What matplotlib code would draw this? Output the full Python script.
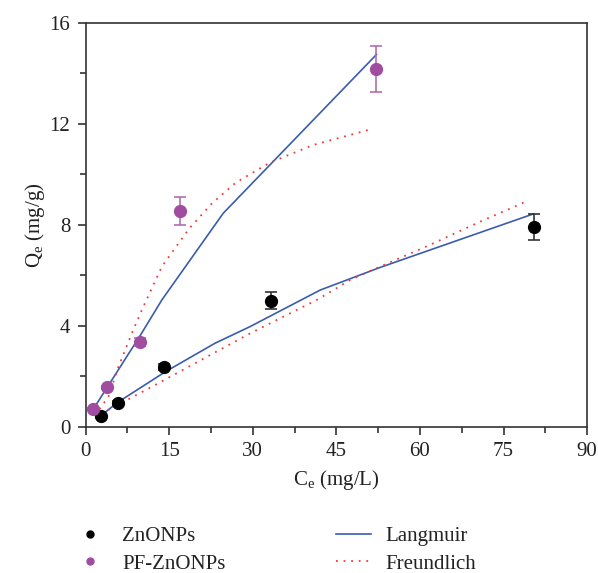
import matplotlib.pyplot as plt
from matplotlib.lines import Line2D

plt.rcParams['font.family'] = ['Liberation Serif', 'DejaVu Serif']
plt.rcParams['mathtext.fontset'] = 'custom'
plt.rcParams['mathtext.rm'] = 'Liberation Serif'

# measured points
zn_ce = [2.8, 5.9, 14.1, 33.2, 80.4]
zn_qe = [0.42, 0.95, 2.38, 5.0, 7.91]
zn_err = [0.05, 0.07, 0.12, 0.35, 0.51]

pf_ce = [1.3, 3.9, 9.8, 17.0, 52.1]
pf_qe = [0.69, 1.56, 3.37, 8.54, 14.19]
pf_err = [0.04, 0.06, 0.16, 0.56, 0.91]

# fitted curves
zn_lang_x = [2.6, 5.9, 14.3, 23.2, 29.5, 42.1, 52.9, 80.4]
zn_lang_y = [0.42, 0.99, 2.18, 3.31, 3.97, 5.42, 6.32, 8.44]
zn_freu_x = [2.9, 11.9, 22.9, 29.5, 41.5, 47.5, 53.5, 61.8, 70.8, 79.4]
zn_freu_y = [0.53, 1.59, 2.91, 3.70, 5.03, 5.82, 6.41, 7.21, 8.13, 8.96]

pf_lang_x = [1.1, 9.9, 13.7, 24.7, 52.2]
pf_lang_y = [0.60, 3.65, 5.03, 8.46, 14.75]
pf_freu_x = [1.7, 4.1, 5.9, 8.3, 10.1, 13.7, 18.5, 22.7, 27.0, 33.1, 40.9, 51.4]
pf_freu_y = [0.46, 1.19, 2.38, 3.70, 4.63, 6.35, 7.83, 8.86, 9.68, 10.47, 11.17, 11.80]

blue = '#3a5cb0'
red = '#f03a3a'
purple = '#a04ca0'
dots = (0, (1, 3.2))

fig = plt.figure(figsize=(5.98, 5.73), dpi=100)
ax = fig.add_axes([0.143, 0.255, 0.839, 0.705])

ax.plot(zn_lang_x, zn_lang_y, color=blue, lw=1.2)
ax.plot(pf_lang_x, pf_lang_y, color=blue, lw=1.2)
ax.plot(zn_freu_x, zn_freu_y, color=red, lw=1.3, linestyle=dots)
ax.plot(pf_freu_x, pf_freu_y, color=red, lw=1.3, linestyle=dots)

ax.errorbar(zn_ce, zn_qe, yerr=zn_err, fmt='o', color='black', ecolor='#333333',
            ms=8.5, capsize=4, elinewidth=1.2, capthick=1.2, zorder=5)
ax.errorbar(pf_ce, pf_qe, yerr=pf_err, fmt='o', color=purple, ecolor='#b070b0',
            ms=8.5, capsize=4, elinewidth=1.2, capthick=1.2, zorder=5)

ax.set_xlim(0, 90)
ax.set_ylim(0, 16)
ax.set_xticks(range(0, 91, 15))
ax.set_yticks(range(0, 17, 4))
ax.set_xticks([7.5 + 15 * i for i in range(6)], minor=True)
ax.set_yticks([2 + 4 * i for i in range(4)], minor=True)
ax.tick_params(which='both', direction='out', labelsize=15, width=1.2, color='#333333',
               labelcolor='#222222')
ax.tick_params(which='major', length=6, pad=5)
ax.tick_params(which='minor', length=4)
for s in ax.spines.values():
    s.set_linewidth(1.2)
    s.set_color('#333333')

ax.set_xlabel(r'C$_\mathrm{e}$ (mg/L)', fontsize=15, labelpad=5, color='#222222')
ax.set_ylabel(r'Q$_\mathrm{e}$ (mg/g)', fontsize=15, labelpad=2, color='#222222')

handles = [
    Line2D([], [], marker='o', ls='none', color='black', ms=5),
    Line2D([], [], marker='o', ls='none', color=purple, ms=5),
    Line2D([], [], color=blue, lw=1.2),
    Line2D([], [], color=red, lw=1.3, linestyle=dots),
]
labels = ['ZnONPs', 'PF-ZnONPs', 'Langmuir', 'Freundlich']
leg = fig.legend(handles, labels, ncol=2, frameon=False, fontsize=15,
                 loc='upper left', bbox_to_anchor=(0.121, 0.081), bbox_transform=fig.transFigure,
                 handlelength=1.68, columnspacing=5.3, labelspacing=0.38, handletextpad=0.7,
                 borderaxespad=0, borderpad=0)
for t in leg.get_texts():
    t.set_color('#222222')

fig.savefig('out.png', dpi=100)
